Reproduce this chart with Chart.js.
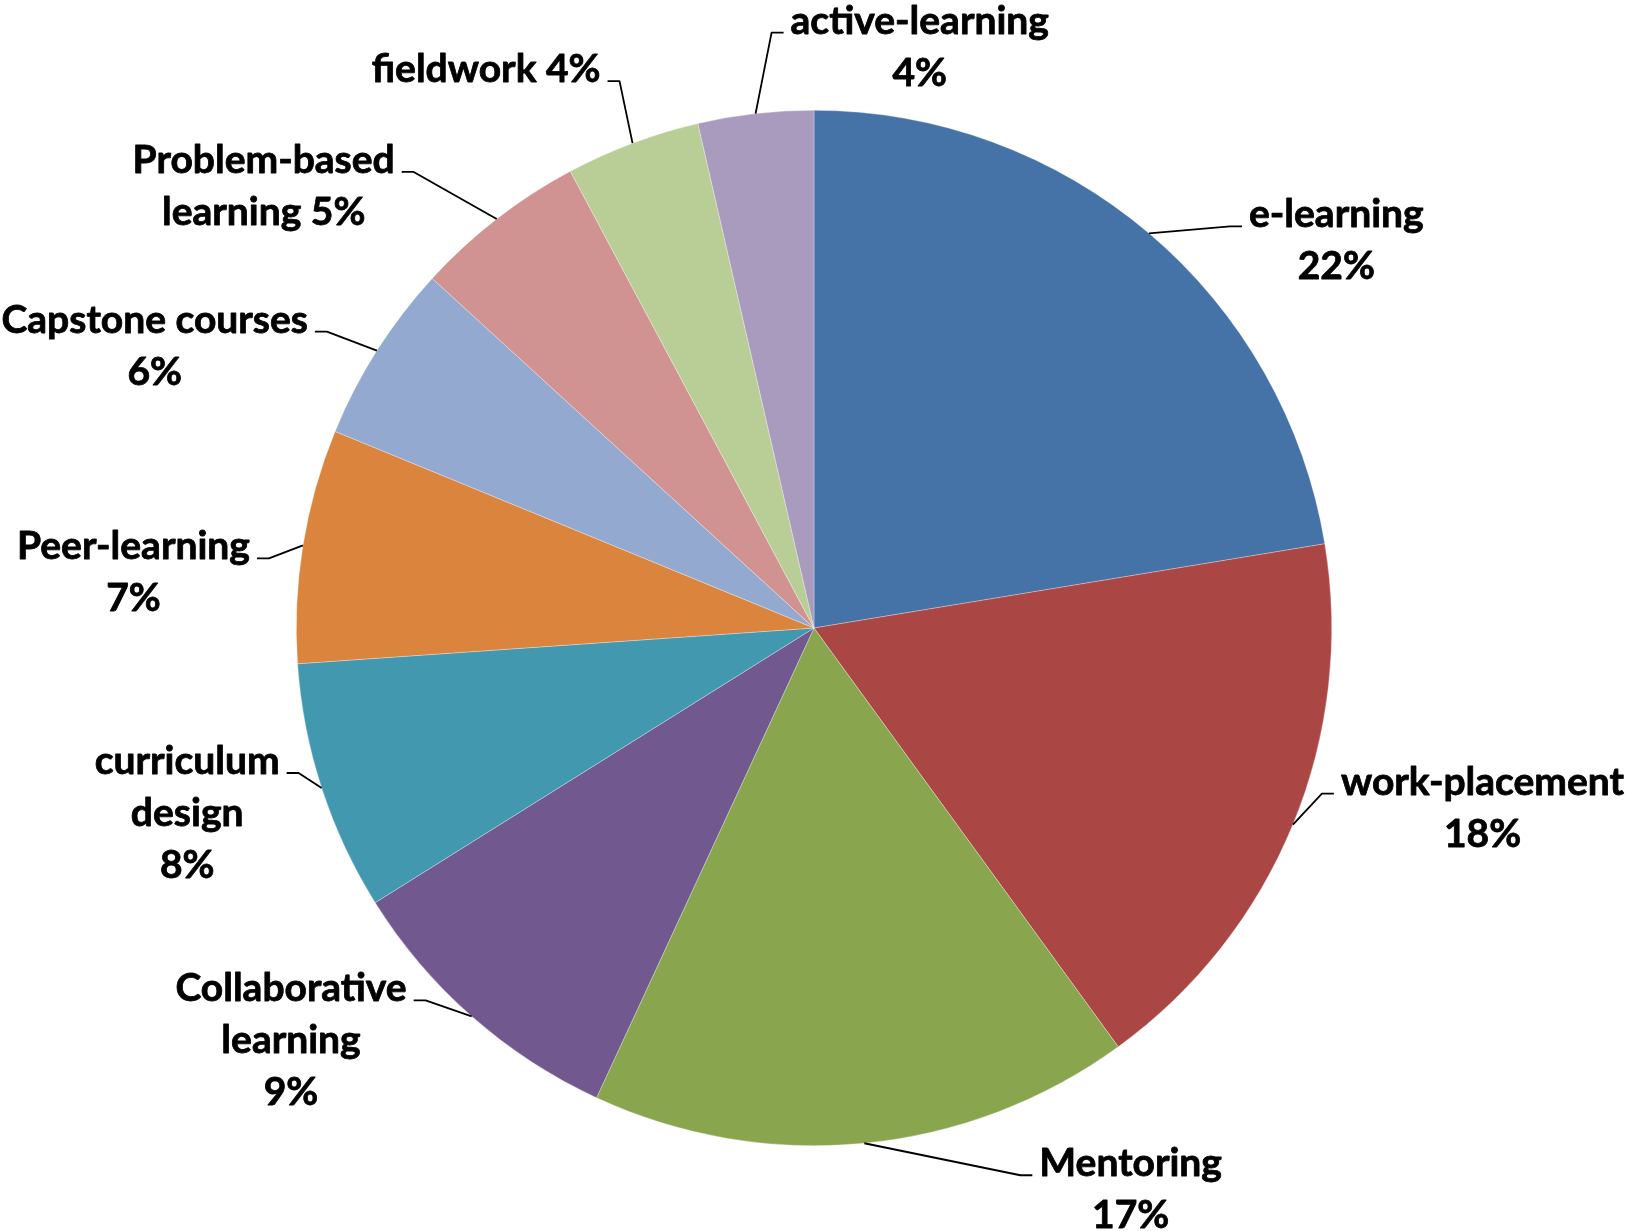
<!DOCTYPE html>
<html>
<head>
<meta charset="utf-8">
<title>Teaching approaches</title>
<script src="https://cdn.jsdelivr.net/npm/chart.js@4.4.0/dist/chart.umd.min.js"></script>
<style>
  html, body { margin: 0; padding: 0; background: #fff; }
  canvas { display: block; }
</style>
</head>
<body>
<canvas id="myChart" width="1633" height="1231"></canvas>
<script>
const categories = ["e-learning", "work-placement", "Mentoring", "Collaborative learning", "curriculum design",
  "Peer-learning", "Capstone courses", "Problem-based learning", "fieldwork", "active-learning"];
const shares = [22.4, 17.6, 16.9, 9.2, 7.8, 7.3, 5.6, 5.4, 4.2, 3.6];
const colors = ["#4572A7", "#AA4643", "#89A54E", "#71588F", "#4198AF",
  "#DB843D", "#93A9CF", "#D19392", "#B9CD96", "#A99BBD"];

// leader bend point (offset from the slice edge) and words per text row for each label
const labelLayout = [
  { bend: [81, -7], rows: [1, 1] },
  { bend: [29, -31], rows: [1, 1] },
  { bend: [156, 32], rows: [1, 1] },
  { bend: [-46, -16], rows: [1, 1, 1] },
  { bend: [-23, -15], rows: [1, 1, 1] },
  { bend: [-34, 13], rows: [1, 1] },
  { bend: [-50, -19], rows: [2, 1] },
  { bend: [-83, -47], rows: [1, 2] },
  { bend: [-13, -62], rows: [2] },
  { bend: [16, -81], rows: [1, 1] },
];

const labelFont = "bold 39px Lato";
const lineHeight = 52;

const leaderLabels = {
  id: "leaderLabels",
  afterDatasetsDraw(chart) {
    const ctx = chart.ctx;
    const arcs = chart.getDatasetMeta(0).data;
    const total = shares.reduce((a, b) => a + b, 0);
    ctx.save();
    ctx.font = labelFont;
    ctx.fillStyle = "#000";
    ctx.strokeStyle = "#000";
    ctx.textAlign = "center";
    ctx.textBaseline = "alphabetic";
    ctx.lineJoin = "round";
    arcs.forEach((arc, i) => {
      const { x, y, startAngle, endAngle, outerRadius } =
        arc.getProps(["x", "y", "startAngle", "endAngle", "outerRadius"], true);
      const mid = (startAngle + endAngle) / 2;
      const ax = x + Math.cos(mid) * outerRadius;
      const ay = y + Math.sin(mid) * outerRadius;
      const lay = labelLayout[i];
      const side = lay.bend[0] > 0 ? 1 : -1;
      const bx = ax + lay.bend[0];
      const by = ay + lay.bend[1];
      const ex = bx + side * 12;

      ctx.lineWidth = 1.8;
      ctx.beginPath();
      ctx.moveTo(ax, ay);
      ctx.lineTo(bx, by);
      ctx.lineTo(ex, by);
      ctx.stroke();

      const pct = Math.round((shares[i] / total) * 100) + "%";
      const words = (categories[i] + " " + pct).split(" ");
      const lines = [];
      let k = 0;
      lay.rows.forEach((n) => {
        lines.push(words.slice(k, k + n).join(" "));
        k += n;
      });
      const w0 = ctx.measureText(lines[0]).width;
      const cx = side > 0 ? ex + 7 + w0 / 2 : ex - 7 - w0 / 2;
      // a thin outline makes the bold face a touch heavier
      ctx.lineWidth = 0.8;
      lines.forEach((ln, j) => {
        ctx.fillText(ln, cx, by + 1 + j * lineHeight);
        ctx.strokeText(ln, cx, by + 1 + j * lineHeight);
      });
    });
    ctx.restore();
  },
};

function drawChart() {
  new Chart(document.getElementById("myChart"), {
    type: "pie",
    data: {
      labels: categories,
      datasets: [
        {
          data: shares,
          backgroundColor: colors,
          borderColor: "rgba(255,255,255,0.5)",
          borderWidth: 0.6,
        },
      ],
    },
    options: {
      responsive: false,
      animation: false,
      layout: { padding: { top: 110, bottom: 85, left: 296, right: 301 } },
      plugins: {
        legend: { display: false },
        tooltip: { enabled: false },
      },
    },
    plugins: [leaderLabels],
  });
}

document.fonts.load(labelFont).then(drawChart, drawChart);
</script>
</body>
</html>
